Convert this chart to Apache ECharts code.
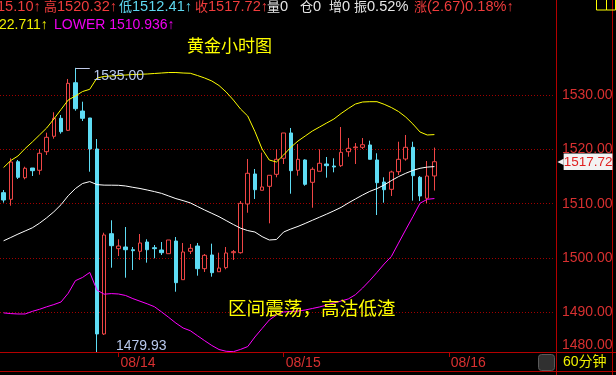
<!DOCTYPE html>
<html><head><meta charset="utf-8">
<script src="https://cdn.jsdelivr.net/npm/echarts@6/dist/echarts.min.js"></script>
<style>html,body{margin:0;padding:0;background:#000;overflow:hidden}#c{width:616px;height:375px}</style>
</head><body><div id="c"></div>
<script>
// ---- data ----
const dateTicks = ['08/14', '08/15', '08/16'];
const dateTickIndex = [16, 39, 62];
const slotCount = 77;

const opens = [1512.02,1510.80,1517.72,1514.78,1516.56,1516.14,1519.56,1522.40,1525.71,1523.50,
1532.26,1527.05,1525.77,1520.06,1486.01,1504.47,1501.71,1502.02,1501.52,1501.23,
1502.94,1501.89,1501.47,1500.79,1503.12,1496.00,1501.23,1502.20,1498.03,1500.55,
1497.47,1498.22,1500.97,1500.97,1509.94,1515.46,1512.46,1513.19,1515.40,1518.35,
1523.01,1516.14,1518.04,1513.93,1515.96,1517.30,1516.93,1516.99,1519.56,1520.30,
1520.37,1520.80,1518.04,1513.98,1512.64,1515.88,1518.22,1520.37,1514.85,1510.99,
1515.10];
const closes = [1510.67,1517.67,1514.85,1516.51,1516.07,1519.27,1522.21,1525.71,1523.24,1532.15,
1527.48,1525.71,1520.06,1486.01,1504.23,1502.26,1502.20,1501.52,1501.34,1502.76,
1501.52,1501.71,1500.97,1503.31,1495.45,1501.10,1501.78,1498.03,1500.49,1497.29,
1498.15,1500.92,1501.16,1510.06,1515.59,1512.57,1513.07,1515.22,1518.16,1523.01,
1516.07,1518.16,1513.56,1516.32,1517.43,1516.99,1516.75,1519.45,1520.19,1520.43,
1520.85,1518.16,1513.86,1512.57,1515.83,1518.16,1520.37,1515.15,1511.41,1515.09,
1517.72];
const lows = [1510.18,1509.62,1514.54,1514.48,1515.09,1515.33,1518.96,1521.96,1522.88,1523.37,
1527.11,1525.21,1515.88,1479.93,1485.82,1498.21,1500.36,1496.37,1497.79,1499.63,
1499.14,1499.94,1500.55,1500.79,1493.79,1496.00,1500.73,1496.74,1497.42,1496.56,
1497.47,1497.92,1499.63,1500.80,1508.33,1510.86,1512.46,1506.38,1514.85,1517.30,
1511.83,1515.15,1513.30,1509.25,1515.96,1514.78,1515.77,1516.75,1518.64,1517.30,
1520.06,1518.16,1507.91,1510.18,1511.41,1515.27,1517.91,1510.55,1510.49,1510.06,
1512.41];
const highs = [1512.51,1518.35,1518.04,1516.80,1516.56,1520.06,1523.06,1526.82,1526.32,1532.95,
1535.00,1528.77,1525.77,1521.90,1504.65,1506.94,1503.44,1505.70,1502.02,1504.41,
1503.44,1502.39,1502.94,1503.31,1503.86,1502.76,1502.57,1502.76,1500.73,1502.63,
1500.97,1502.02,1501.47,1510.49,1518.22,1516.38,1519.38,1515.22,1520.00,1523.01,
1523.93,1520.98,1518.16,1516.69,1520.00,1518.59,1518.35,1524.11,1522.08,1521.16,
1522.08,1521.59,1519.27,1514.85,1516.07,1521.40,1522.64,1521.40,1515.09,1517.85,
1520.32];
const upper = [1516.65,1517.94,1518.77,1520.15,1521.35,1522.64,1523.93,1525.58,1527.33,1529.08,
1529.82,1530.64,1531.05,1533.13,1533.41,1533.50,1533.59,1533.68,1533.77,1533.81,
1533.87,1533.96,1534.05,1534.14,1534.14,1534.05,1534.00,1533.59,1533.13,1532.58,
1531.75,1530.55,1529.08,1527.42,1526.13,1523.28,1520.06,1518.03,1517.67,1518.96,
1520.37,1521.53,1522.45,1523.37,1524.11,1524.85,1525.58,1526.59,1527.51,1528.34,
1528.71,1528.77,1528.77,1528.29,1527.70,1526.96,1525.95,1524.66,1523.19,1522.64,
1522.71];
const middle = [1503.16,1503.77,1504.39,1504.97,1505.55,1506.40,1507.39,1508.50,1509.81,1511.46,
1512.77,1513.71,1514.06,1513.51,1513.41,1513.40,1513.38,1513.25,1513.01,1512.79,
1512.51,1512.22,1511.89,1511.41,1510.93,1510.56,1510.14,1509.48,1508.83,1508.22,
1507.60,1506.88,1506.16,1505.48,1505.04,1504.78,1503.93,1503.31,1503.40,1504.78,
1505.33,1505.81,1506.36,1506.94,1507.51,1508.08,1508.68,1509.31,1510.12,1510.86,
1511.59,1512.26,1512.77,1513.43,1514.24,1514.98,1515.59,1516.12,1516.51,1516.73,
1516.82];
const lower = [1489.89,1489.76,1489.69,1489.69,1490.17,1490.55,1491.01,1491.42,1491.90,1493.50,
1495.82,1496.42,1497.34,1494.10,1493.33,1493.44,1493.37,1493.09,1492.52,1492.04,
1491.56,1491.03,1490.07,1489.06,1488.01,1487.11,1486.61,1485.69,1484.77,1483.89,
1483.15,1482.82,1482.75,1483.17,1483.69,1485.45,1487.02,1488.58,1489.50,1490.06,
1490.15,1490.22,1490.42,1490.70,1490.98,1491.34,1491.71,1492.08,1492.45,1493.24,
1494.47,1495.85,1497.34,1498.89,1500.27,1502.74,1505.19,1507.60,1510.08,1510.80,
1510.94];

const yTicks = [1490, 1500, 1510, 1520, 1530];
const yMin = 1482.69, yMax = 1547.49;
const bottomTickLabel = '1480.00';
const lastClose = 1517.72;
const highIdx = 10, highMark = 1535.00;
const lowIdx = 13, lowMark = 1479.93;

// header segments: [chinese word, number text, colour, x]
const headerLine1 = [
  ['', '15.10↑', '#f03c3c', -3],
  ['高', '1520.32↑', '#f03c3c', 44],
  ['低', '1512.41↑', '#5ed8f0', 119],
  ['收', '1517.72↑', '#f03c3c', 195],
  ['量', '0', '#e6e6e6', 267],
  ['仓', '0', '#e6e6e6', 300],
  ['增', '0', '#e6e6e6', 329],
  ['振', '0.52%', '#e6e6e6', 354],
  ['涨', '(2.67)0.18%↑', '#f03c3c', 414]
];
const headerLine2 = [
  ['22.711↑', '#f0f000', -1],
  ['LOWER 1510.936↑', '#f000f0', 54]
];
const titleText = '黄金小时图';
const noteText = '区间震荡，高沽低渣';
const periodText = '60分钟';

// ---- chart ----
const FONT = '"Liberation Sans", Arial, "Noto Sans CJK SC", sans-serif';
const RED = '#f04646', CYAN = '#5edcf4', FRAME = '#b40000';

const categories = [];
for (let i = 0; i < slotCount; i++) {
  const k = dateTickIndex.indexOf(i);
  categories.push(k >= 0 ? dateTicks[k] : 'h' + i);
}
const isDateTick = (idx) => dateTickIndex.indexOf(idx) >= 0;
const candles = opens.map((o, i) => [o, closes[i], lows[i], highs[i]]);

const headerEls = [];
headerLine1.forEach(([w, n, c, x]) => headerEls.push({type: 'text', x: x, y: 7, z: 60,
  style: {text: (w ? '{c|' + w + '}' : '') + '{n|' + n + '}', fill: c, textAlign: 'left', textVerticalAlign: 'middle',
    rich: {c: {fill: c, color: c, fontSize: 13, fontFamily: FONT}, n: {fill: c, color: c, fontSize: 14.6, fontFamily: FONT}}}}));
headerLine2.forEach(([t, c, x]) => headerEls.push({type: 'text', x: x, y: 25.5, z: 60,
  style: {text: t, fill: c, font: '14px ' + FONT, textAlign: 'left', textVerticalAlign: 'middle'}}));

const chart = echarts.init(document.getElementById('c'), null, {renderer: 'canvas'});
chart.setOption({
  backgroundColor: '#000',
  animation: false,
  grid: {left: -1.5, top: 0, width: 554.4, height: 352},
  xAxis: {
    type: 'category', data: categories, boundaryGap: true, z: 100,
    axisLine: {show: false},
    axisTick: {show: true, alignWithLabel: true, interval: isDateTick, length: 5, lineStyle: {color: FRAME}},
    axisLabel: {interval: isDateTick, formatter: (v) => v, color: '#d83030', fontSize: 14,
      fontFamily: FONT, align: 'left', margin: 4, padding: [0, 0, 0, 2]},
    splitLine: {show: false}
  },
  yAxis: [{
    type: 'value', position: 'right', offset: 3.1, min: yMin, max: yMax, scale: true,
    axisLine: {show: false},
    axisTick: {show: false, customValues: [yMin].concat(yTicks)},
    axisLabel: {customValues: [yMin].concat(yTicks), color: '#d83030', fontSize: 14, fontFamily: FONT, margin: 6,
      formatter: (v) => v < yTicks[0] - 5 ? '{low|' + bottomTickLabel + '}' : v.toFixed(2),
      rich: {low: {color: '#d83030', fontSize: 14, fontFamily: FONT, padding: [0, 0, 14, 0]}}},
    splitLine: {show: true, lineStyle: {color: '#a00000', width: 1, type: [1, 2]}}
  }, {
    type: 'value', position: 'right', offset: 3.1, min: yMin, max: yMax, scale: true, z: 120,
    axisLine: {show: false}, axisTick: {show: false}, splitLine: {show: false},
    axisLabel: {customValues: [lastClose], margin: 1.5,
      formatter: (v) => '{a|◀}{b|' + v.toFixed(2) + '}',
      rich: {a: {color: '#f2f2f2', fontSize: 8, fontFamily: 'DejaVu Sans'},
             b: {color: '#e02020', backgroundColor: '#f2f2f2', fontSize: 13.5, fontFamily: FONT, padding: [2, 0, 1, 0]}}}
  }],
  series: [
    {
      type: 'candlestick', data: candles, barWidth: 4, clip: true,
      itemStyle: {color: '#000', color0: CYAN, borderColor: RED, borderColor0: CYAN, borderWidth: 1},
      markLine: {
        silent: true, animation: false, symbol: ['none', 'none'],
        lineStyle: {color: '#c0cae8', width: 1, type: 'solid'}, label: {show: false},
        data: [[{coord: [highIdx, highMark]}, {coord: [highIdx + 2, highMark]}]]
      },
      markPoint: {
        silent: true, animation: false, symbol: 'circle', symbolSize: 0,
        itemStyle: {color: 'transparent'},
        label: {show: true, formatter: '{c}', color: '#b8c8ec', fontSize: 14, fontFamily: FONT, align: 'left', verticalAlign: 'middle'},
        data: [
          {coord: [highIdx, highMark], value: highMark.toFixed(2), label: {position: [18, 8]}},
          {coord: [lowIdx, yMin], value: lowMark.toFixed(2), label: {position: [19, -6]}}
        ]
      }
    },
    {type: 'line', data: upper, showSymbol: false, silent: true, lineStyle: {color: '#ffff00', width: 1}},
    {type: 'line', data: middle, showSymbol: false, silent: true, lineStyle: {color: '#ffffff', width: 1}},
    {type: 'line', data: lower, showSymbol: false, silent: true, lineStyle: {color: '#ff00ff', width: 1}}
  ],
  graphic: {elements: [
    {type: 'rect', z: 40, shape: {x: 0, y: 352.5, width: 556, height: 19}, style: {fill: '#000'}},
    {type: 'line', z: 50, shape: {x1: 0, y1: 352.5, x2: 616, y2: 352.5}, style: {stroke: FRAME, lineWidth: 1}},
    {type: 'line', z: 50, shape: {x1: 0, y1: 371.5, x2: 616, y2: 371.5}, style: {stroke: FRAME, lineWidth: 1}},
    {type: 'line', z: 50, shape: {x1: 556.5, y1: 0, x2: 556.5, y2: 375}, style: {stroke: FRAME, lineWidth: 1}},
    {type: 'line', z: 50, shape: {x1: 612.5, y1: 0, x2: 612.5, y2: 375}, style: {stroke: FRAME, lineWidth: 1}},
    {type: 'rect', z: 50, shape: {x: 538.5, y: 354.5, width: 16, height: 16, r: 3}, style: {fill: '#303030', stroke: '#5a5a5a', lineWidth: 1}},
    {type: 'rect', z: 50, shape: {x: 596.5, y: -2, width: 10, height: 12}, style: {fill: 'none', stroke: '#ffff00', lineWidth: 1}},
    {type: 'rect', z: 50, shape: {x: 606.5, y: -2, width: 9, height: 12}, style: {fill: 'none', stroke: '#ffff00', lineWidth: 1}},
    {type: 'text', z: 60, x: 563, y: 362, style: {text: periodText, fill: '#f0f000', font: '14px ' + FONT, textAlign: 'left', textVerticalAlign: 'middle'}},
    {type: 'text', z: 60, x: 187, y: 47, style: {text: titleText, fill: '#ffff00', font: '17px ' + FONT, textAlign: 'left', textVerticalAlign: 'middle'}},
    {type: 'text', z: 60, x: 228, y: 310, style: {text: noteText, fill: '#ffff00', font: '18.6px ' + FONT, textAlign: 'left', textVerticalAlign: 'middle'}}
  ].concat(headerEls)}
});
</script>
</body></html>
